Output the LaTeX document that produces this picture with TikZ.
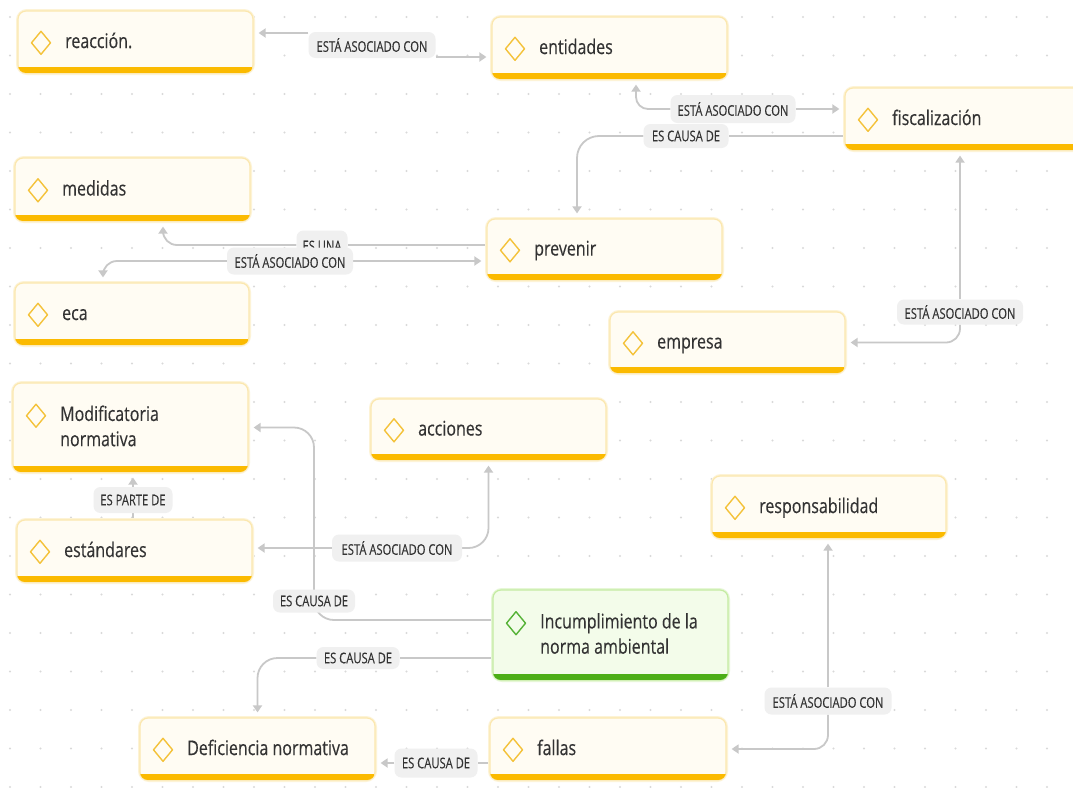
\documentclass[tikz,border=0pt]{standalone}
\usepackage{fontspec}
\usepackage{graphicx}
\setmainfont{Open Sans}
\newfontfamily\nodefont{Open Sans}[FakeBold=0.35]
\newfontfamily\labfont{Open Sans}[FakeBold=0.25]
\usetikzlibrary{arrows.meta,calc}
\definecolor{fillY}{HTML}{FFFCF3}
\definecolor{edgeY}{HTML}{FBE7AE}
\definecolor{barY}{HTML}{FBBA00}
\definecolor{iconY}{HTML}{F4C23A}
\definecolor{glowY}{HTML}{FDF3D6}
\definecolor{fillG}{HTML}{F3FCEA}
\definecolor{edgeG}{HTML}{C4EBA2}
\definecolor{barG}{HTML}{4CAE17}
\definecolor{iconG}{HTML}{55B236}
\definecolor{glowG}{HTML}{E6F7D6}
\definecolor{textc}{HTML}{333333}
\definecolor{labfill}{HTML}{F0F0F0}
\definecolor{linkc}{HTML}{C8C8C8}
\definecolor{dotc}{HTML}{D9D9D9}
\pgfdeclarelayer{bg}
\pgfsetlayers{bg,main}
\newcommand\vtext[1]{\scalebox{1}[1.26]{\begin{tabular}{@{}l@{}}#1\end{tabular}}}
\newcommand\ltext[1]{\scalebox{1}[1.32]{#1}}
\tikzset{
  nodebox/.style={rectangle, rounded corners=8pt, line width=1.2pt, inner sep=0pt},
  ntext/.style={anchor=west, inner sep=0pt, text=textc, font=\nodefont\fontsize{16}{20}\selectfont},
  icon/.style={line width=1.4pt, line join=round},
  lab/.style={rectangle, rounded corners=7pt, fill=labfill, inner sep=0pt, text=textc,
    font=\labfont\fontsize{11.2}{13}\selectfont, minimum height=26pt},
  link/.style={draw=linkc, line width=1.8pt, rounded corners=14pt},
  arr/.style={-{Triangle[length=7pt,width=9pt]}, shorten >=5pt}
}
\newcommand\cbox[7]{%
  \draw[draw=glow#6, line width=4pt, rounded corners=9pt] (#2,#3) rectangle (#4,#5);
  \node[nodebox, draw=edge#6, fill=fill#6, minimum width={(#4-#2)*1pt}, minimum height={(#5-#3)*1pt}] (#1) at ({(#2+#4)/2},{(#3+#5)/2}) {};
  \begin{scope}
    \clip[rounded corners=8pt] (#2,#3) rectangle (#4,#5);
    \fill[fill=bar#6] (#2,{#5-6}) rectangle (#4,#5);
  \end{scope}
  \node[ntext] (#1-t) at ({#2+47},{(#3+#5)/2+1}) {\vtext{#7}};
  \draw[icon, draw=icon#6] ([xshift=-24pt,yshift=-12.6pt]#1-t.north west) +(-9.5,0) -- +(0,11.5) -- +(9.5,0) -- +(0,-11.5) -- cycle;
}
\begin{document}
\begin{tikzpicture}[x=1pt,y=-1pt]
\useasboundingbox (0,0) rectangle (1073,787);
% concept nodes
\cbox{reaccion}{18}{11}{253}{73}{Y}{reacción.}
\cbox{entidades}{492}{17}{727}{79}{Y}{entidades}
\cbox{fiscal}{845}{88}{1090}{150}{Y}{fiscalización}
\cbox{medidas}{15}{158}{250}{221}{Y}{medidas}
\cbox{prevenir}{487}{219}{722}{280}{Y}{prevenir}
\cbox{eca}{15}{283}{249}{345}{Y}{eca}
\cbox{empresa}{610}{312}{845}{373}{Y}{empresa}
\cbox{modif}{13}{383}{248}{472}{Y}{Modificatoria\\normativa}
\cbox{acciones}{371}{399}{606}{460}{Y}{acciones}
\cbox{resp}{712}{476}{946}{538}{Y}{responsabilidad}
\cbox{estand}{17}{520}{252}{582}{Y}{estándares}
\cbox{incump}{493}{590}{728}{680}{G}{Incumplimiento de la\\norma ambiental}
\cbox{defic}{140}{718}{375}{780}{Y}{Deficiencia normativa}
\cbox{fallas}{490}{718}{726}{780}{Y}{fallas}
% link labels
\node[lab, minimum width=127pt] (L1) at (372,45) {\ltext{ESTÁ ASOCIADO CON}};
\node[lab, minimum width=125pt, minimum height=28pt] (L2) at (733,109) {\ltext{ESTÁ ASOCIADO CON}};
\node[lab, minimum width=85pt, minimum height=24pt] (L3) at (686,136) {\ltext{ES CAUSA DE}};
\node[lab, minimum width=51pt, minimum height=31pt] (L4) at (322,246) {\ltext{ES UNA}};
\node[lab, minimum width=126pt, minimum height=27pt] (L5) at (290,261) {\ltext{ESTÁ ASOCIADO CON}};
\node[lab, minimum width=126pt, minimum height=25pt] (L6) at (960,312) {\ltext{ESTÁ ASOCIADO CON}};
\node[lab, minimum width=79pt] (L7) at (133,500) {\ltext{ES PARTE DE}};
\node[lab, minimum width=130pt, minimum height=27pt] (L8) at (397,548) {\ltext{ESTÁ ASOCIADO CON}};
\node[lab, minimum width=82pt, minimum height=23pt] (L9) at (314,601) {\ltext{ES CAUSA DE}};
\node[lab, minimum width=83pt, minimum height=22pt] (L10) at (358,658) {\ltext{ES CAUSA DE}};
\node[lab, minimum width=83pt, minimum height=29pt] (L11) at (436,763) {\ltext{ES CAUSA DE}};
\node[lab, minimum width=127pt, minimum height=27pt] (L12) at (828,701) {\ltext{ESTÁ ASOCIADO CON}};
\begin{pgfonlayer}{bg}
  \fill[white] (0,0) rectangle (1073,787);
  \foreach \i in {0,...,35}{\foreach \j in {0,...,20}{\fill[dotc] ({10+30.5*\i},{17+38.5*\j}) circle (1.2pt);}}
  % connectors
  \draw[link,arr] ([yshift=12pt]L1.west) -- ([yshift=9pt]reaccion.east);
  \draw[link,arr] ([yshift=-12pt]L1.east) -- ([yshift=-9pt]entidades.west);
  \draw[link,arr,rounded corners=12pt] (L2.west) -| ([xshift=26.5pt]entidades.south);
  \draw[link,arr] (L2.east) -- (L2.east -| fiscal.west);
  \draw[link] (L3.east -| fiscal.west) -- (L3.east);
  \draw[link,arr,rounded corners=22pt] (L3.west) -| ([xshift=-27.5pt]prevenir.north);
  \draw[link] ([yshift=1pt]L4.east -| prevenir.west) -- ([yshift=1pt]L4.east);
  \draw[link,arr] ([yshift=1pt]L4.west) -| ([xshift=30.5pt]medidas.south);
  \draw[link,arr] (L5.east) -- (L5 -| prevenir.west);
  \draw[link,arr] (L5.west) -| ([xshift=-29pt]eca.north);
  \draw[link,arr] (L6.north) -- (L6.north |- fiscal.south);
  \draw[link,arr] (L6.south) |- (empresa.east);
  \draw[link] (L7.south |- estand.north) -- (L7.south);
  \draw[link,arr] (L7.north) -- (L7.north |- modif.south);
  \draw[link,arr] (L8.west) -- (L8 -| estand.east);
  \draw[link,arr,rounded corners=20pt] (L8.east) -| (acciones.south);
  \draw[link,arr,rounded corners=20pt] ([yshift=15pt]incump.west) -| (L9.center |- modif.east) -- (modif.east);
  \draw[link] (L10 -| incump.west) -- (L10.east);
  \draw[link,arr,rounded corners=20pt] (L10.west) -| (defic.north);
  \draw[link] (L11 -| fallas.west) -- (L11.east);
  \draw[link,arr] (L11.west) -- (L11 -| defic.east);
  \draw[link,arr] (L12.north) -- (L12.north |- resp.south);
  \draw[link,arr] (L12.south) |- (fallas.east);
\end{pgfonlayer}
\end{tikzpicture}
\end{document}
